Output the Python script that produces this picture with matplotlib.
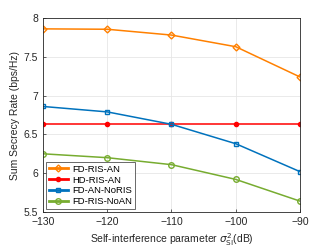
import matplotlib
matplotlib.use('Agg')
import matplotlib.pyplot as plt

sigma_si = [-130, -120, -110, -100, -90]
fd_ris_an = [7.86, 7.855, 7.78, 7.63, 7.24]
hd_ris_an = [6.635, 6.635, 6.635, 6.635, 6.635]
fd_an_noris = [6.86, 6.79, 6.63, 6.38, 6.02]
fd_ris_noan = [6.25, 6.20, 6.11, 5.92, 5.64]

plt.rcParams['font.family'] = ['Liberation Sans', 'DejaVu Sans']

fig = plt.figure(figsize=(3.32, 2.49), dpi=100)
ax = fig.add_axes([43 / 332, 1 - 212 / 249, 257 / 332, 194 / 249])

ax.plot(sigma_si, fd_ris_an, color='#FF8000', marker='D', ms=3.5, mfc='none', mew=1, lw=1.1, label='FD-RIS-AN')
ax.plot(sigma_si, hd_ris_an, color='#FF0000', marker='o', ms=3, lw=1.1, label='HD-RIS-AN')
ax.plot(sigma_si, fd_an_noris, color='#0072BD', marker='s', ms=3.5, mfc='none', mew=1, lw=1.1, label='FD-AN-NoRIS')
ax.plot(sigma_si, fd_ris_noan, color='#77AC30', marker='o', ms=4, mfc='none', mew=1, lw=1.1, label='FD-RIS-NoAN')

ax.set_xlim(-130, -90)
ax.set_ylim(5.5, 8)
ax.set_xticks(sigma_si)
ax.set_yticks([5.5, 6, 6.5, 7, 7.5, 8])
ax.set_yticklabels(['5.5', '6', '6.5', '7', '7.5', '8'])
ax.grid(True, color='#E6E6E6', lw=0.6)
ax.tick_params(labelsize=7.5, direction='in', length=2, width=0.5, colors='#262626')
for s in ax.spines.values():
    s.set_color('#262626')
    s.set_linewidth(0.6)

ax.set_xlabel(r'Self-interference parameter $\sigma_{\mathrm{SI}}^2$(dB)', fontsize=7.5, color='#262626', labelpad=3)
ax.set_ylabel('Sum Secrecy Rate (bps/Hz)', fontsize=7.5, color='#262626', labelpad=3)

leg = ax.legend(loc='lower left', fontsize=6.8, frameon=True, fancybox=False,
                edgecolor='#262626', borderpad=0.3, labelspacing=0.2, handlelength=2.0,
                handletextpad=0.5, borderaxespad=0.3)
leg.get_frame().set_linewidth(0.6)
for h in leg.get_lines():
    h.set_linewidth(2)

fig.savefig('out.png', dpi=100)
